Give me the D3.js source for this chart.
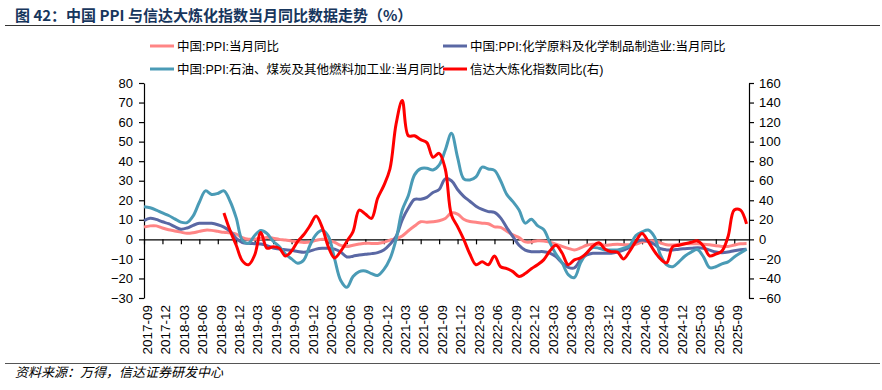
<!DOCTYPE html>
<html><head><meta charset="utf-8">
<script src="https://cdn.jsdelivr.net/npm/d3@7/dist/d3.min.js"></script>
<style>body{margin:0;background:#fff}svg{display:block;background:#fff}</style>
</head><body><svg id="c" width="882" height="390"></svg>
<script>
// Monthly data, 2017-08 .. 2025-10
const startMonth = "2017-08";
const ppi = [6.3,6.9,6.9,5.8,4.9,
 4.3,3.7,3.1,3.4,4.1,4.7,4.6,4.1,3.6,3.3,2.7,0.9,
 0.1,0.1,0.4,0.9,0.6,0.0,-0.3,-0.8,-1.2,-1.6,-1.4,-0.5,
 0.1,-0.4,-1.5,-3.1,-3.7,-3.0,-2.4,-2.0,-2.1,-2.1,-1.5,-0.4,
 0.3,1.7,4.4,6.8,9.0,8.8,9.0,9.5,10.7,13.5,12.9,10.3,
 9.1,8.8,8.3,8.0,6.4,6.1,4.2,2.3,0.9,-1.3,-1.3,-0.7,
 -0.8,-1.4,-2.5,-3.6,-4.6,-5.4,-4.4,-3.0,-2.5,-2.6,-3.0,-2.7,
 -2.5,-2.7,-2.8,-2.5,-1.4,-0.8,-0.8,-1.8,-2.8,-2.9,-2.5,-2.3,
 -2.3,-2.2,-2.5,-2.7,-3.3,-3.6,-3.6,-2.9,-2.3,-2.1];
const chem = [9.6,10.8,10.2,9.0,8.0,
 6.5,5.2,5.8,7.2,8.2,8.2,8.2,7.5,6.3,4.2,0.5,-1.6,
 -2.0,-2.2,-2.4,-3.2,-4.4,-5.0,-5.3,-5.6,-6.2,-6.6,-6.0,-5.0,
 -4.6,-4.6,-5.0,-6.5,-9.0,-8.6,-8.0,-7.6,-7.3,-6.8,-5.5,-2.5,
 1.5,10.0,16.0,20.5,20.5,21.5,24.0,25.5,31.0,30.0,25.5,22.0,
 19.5,17.0,15.3,14.2,13.8,11.0,6.0,1.4,-3.0,-5.5,-6.3,-6.3,
 -6.3,-7.0,-8.8,-12.0,-14.3,-14.6,-10.5,-8.0,-7.1,-7.1,-7.1,-7.1,
 -6.5,-5.5,-4.0,-1.5,-0.3,-1.0,-2.5,-4.8,-5.4,-5.4,-5.0,-4.8,
 -4.6,-4.3,-4.5,-5.5,-6.5,-6.8,-6.5,-5.8,-5.3,-5.0];
const oil = [16.7,16.2,15.0,13.5,12.2,
 10.5,8.8,8.6,12.0,19.0,24.8,23.0,23.5,24.8,19.5,11.0,-0.5,
 -2.0,2.0,4.5,3.0,-1.0,-3.7,-7.5,-10.0,-12.2,-10.5,-3.0,2.5,
 4.6,1.5,-10.0,-21.0,-24.5,-19.0,-16.5,-16.2,-17.5,-18.5,-15.5,-10.0,
 0.0,15.0,22.5,33.0,36.2,36.4,35.5,38.0,45.7,54.3,42.0,31.0,
 30.4,32.0,37.0,36.0,35.3,30.0,23.0,19.3,15.0,8.3,10.3,7.0,
 5.0,-1.5,-7.5,-12.0,-18.0,-19.5,-12.0,-7.0,-4.2,-4.5,-5.4,-5.4,
 -5.4,-4.5,-3.2,2.0,3.8,4.8,1.5,-8.0,-13.0,-14.0,-11.5,-8.5,
 -6.5,-5.2,-9.0,-14.5,-14.0,-12.5,-11.5,-9.0,-7.0,-5.0];
const refining = [null,null,null,null,null,
 null,null,null,null,null,null,null,null,27,9,-6,-22,
 -26,-16,7,-9,-7.5,-9,-17,-12,-2,5,14,24,
 12,-8,-19,-12,-2,8,30,26,21.5,42,55,72,
 118,142,106,106,102,99,84,88,72,25,13,0,
 -15,-26,-23,-26,-17,-28,-30,-33,-38,-35,-30,-26,
 -21,-12,-6,-14,-26,-21,-19,-14,-7,-3.5,-10,-12.6,
 -13,-20,-12,-2,6,-2,-12,-20,-24,-7.5,-6,-4.5,
 -3,-1.5,-7,-17,-15,-12,3,30,30,15.8];
const tickLabels = ["2017-09","2017-12","2018-03","2018-06","2018-09","2018-12","2019-03","2019-06","2019-09","2019-12",
 "2020-03","2020-06","2020-09","2020-12","2021-03","2021-06","2021-09","2021-12","2022-03","2022-06","2022-09","2022-12",
 "2023-03","2023-06","2023-09","2023-12","2024-03","2024-06","2024-09","2024-12","2025-03","2025-06","2025-09"];
const leftTicks = [80,70,60,50,40,30,20,10,0,-10,-20,-30];
const rightTicks = [160,140,120,100,80,60,40,20,0,-20,-40,-60];
const seriesNames = ["中国:PPI:当月同比","中国:PPI:化学原料及化学制品制造业:当月同比","中国:PPI:石油、煤炭及其他燃料加工业:当月同比","信达大炼化指数同比(右)"];
const seriesColors = ["#FF8585","#5A68A4","#4A9BB6","#FF0000"];

const svg = d3.select("#c");
const numFont = "'Liberation Sans', Arial, sans-serif";
const cjkFont = "'Liberation Sans','Noto Sans CJK SC', sans-serif";

const x = d3.scaleLinear().domain([0, 98.4]).range([144, 749]);
const yL = d3.scaleLinear().domain([-30, 80]).range([298, 83]);
const yR = d3.scaleLinear().domain([-60, 160]).range([298, 83]);

// Title
svg.append("text").attr("x", 15).attr("y", 21)
  .attr("font-family", "'Noto Sans CJK SC', sans-serif").attr("font-weight", "bold")
  .attr("font-size", 15).attr("fill", "#17365D")
  .text("图 42：中国 PPI 与信达大炼化指数当月同比数据走势（%）");
svg.append("line").attr("x1", 5).attr("x2", 880).attr("y1", 25.5).attr("y2", 25.5)
  .attr("stroke", "#333").attr("stroke-width", 1.2);

// Footer
svg.append("line").attr("x1", 5).attr("x2", 880).attr("y1", 363.5).attr("y2", 363.5)
  .attr("stroke", "#555").attr("stroke-width", 1);
svg.append("text").attr("x", 15).attr("y", 377)
  .attr("font-family", "'Noto Sans CJK SC', sans-serif").attr("font-style", "italic")
  .attr("font-size", 13).attr("fill", "#000")
  .text("资料来源：万得，信达证券研发中心");

// Axes
const axL = svg.append("g").attr("transform", "translate(144,0)")
  .call(d3.axisLeft(yL).tickValues(leftTicks).tickSize(5).tickSizeOuter(0).tickPadding(6).tickFormat(d3.format("d")));
const axR = svg.append("g").attr("transform", "translate(749,0)")
  .call(d3.axisRight(yR).tickValues(rightTicks).tickSize(5).tickSizeOuter(0).tickPadding(5).tickFormat(d3.format("d")));
[axL, axR].forEach(g => {
  g.selectAll("text").attr("font-family", numFont).attr("font-size", 13).attr("fill", "#000");
  g.selectAll("line,path").attr("stroke", "#000").attr("stroke-width", 1.2);
});

const tickIdx = tickLabels.map((_, k) => k * 3);
const axX = svg.append("g").attr("transform", `translate(0,${yL(0)})`)
  .call(d3.axisBottom(x).tickValues(tickIdx).tickSize(5).tickSizeOuter(0).tickFormat(""));
axX.selectAll("line,path").attr("stroke", "#000").attr("stroke-width", 1.2);

const axXL = svg.append("g").attr("transform", "translate(0,298)")
  .call(d3.axisBottom(x).tickValues(tickIdx).tickSize(0).tickFormat((d, k) => tickLabels[k]));
axXL.select(".domain").remove();
axXL.selectAll("text")
  .attr("font-family", numFont).attr("font-size", 13.5).attr("fill", "#000")
  .attr("text-anchor", "end").attr("transform", "rotate(-90)")
  .attr("x", -7).attr("y", 2.5).attr("dy", "0.35em");

// Lines
const mk = (scale) => d3.line().defined(d => d != null)
  .x((d, i) => x(i)).y(d => scale(d)).curve(d3.curveCatmullRom.alpha(0.5));
const series = [[ppi, yL], [chem, yL], [oil, yL], [refining, yR]];
series.forEach(([data, sc], k) => {
  svg.append("path").datum(data).attr("d", mk(sc)).attr("fill", "none")
    .attr("stroke", seriesColors[k]).attr("stroke-width", 3)
    .attr("stroke-linejoin", "round").attr("stroke-linecap", "butt");
});

// Legend
const legendPos = [[150, 46], [443, 46], [150, 69], [443, 69]];
seriesNames.forEach((name, k) => {
  const [lx, ly] = legendPos[k];
  svg.append("line").attr("x1", lx).attr("x2", lx + 24).attr("y1", ly).attr("y2", ly)
    .attr("stroke", seriesColors[k]).attr("stroke-width", 3);
  svg.append("text").attr("x", lx + 27).attr("y", ly).attr("dy", "0.36em")
    .attr("font-family", cjkFont).attr("font-size", 12.5).attr("fill", "#000").text(name);
});
</script></body></html>
